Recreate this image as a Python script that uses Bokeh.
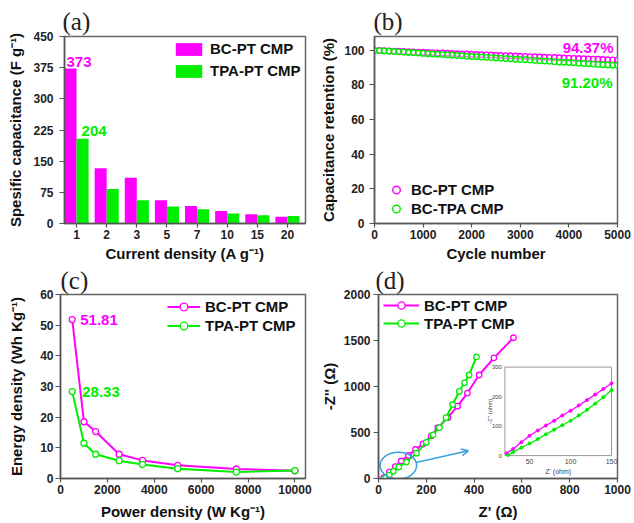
from bokeh.plotting import figure
from bokeh.layouts import column, row
from bokeh.models import (Range1d, FixedTicker, Legend, LegendItem, Arrow, OpenHead,
                          ColumnDataSource)
from bokeh.core.properties import value
from bokeh.embed import file_html
from bokeh.resources import INLINE
import math

MAG = "#ff00ff"
GRN = "#00ee00"
BLUE = "#3aa0e0"
FONT = "Liberation Sans"
SERIF = "Liberation Serif"

# ---------------- (a) specific capacitance ----------------
densities = ["1", "2", "3", "5", "7", "10", "15", "20"]
cap_bc = [373, 133, 110, 56, 42, 30, 22, 16]
cap_tpa = [204, 83, 56, 41, 34, 24, 20, 18]
cap_ticks = [0, 75, 150, 225, 300, 375, 450]

# ---------------- (b) cycling stability ----------------
cycles = list(range(0, 5001, 100))
ret_bc = [100.00, 99.92, 99.80, 99.69, 99.58, 99.45, 99.35, 99.22, 99.11, 99.00,
          98.88, 98.77, 98.66, 98.53, 98.43, 98.31, 98.20, 98.08, 97.97, 97.86,
          97.75, 97.63, 97.52, 97.41, 97.29, 97.18, 97.07, 96.95, 96.84, 96.73,
          96.62, 96.50, 96.39, 96.28, 96.16, 96.05, 95.94, 95.83, 95.71, 95.60,
          95.49, 95.38, 95.27, 95.15, 95.04, 94.93, 94.82, 94.71, 94.60, 94.48, 94.37]
ret_tpa = [100.00, 99.85, 99.67, 99.49, 99.32, 99.14, 98.96, 98.79, 98.61, 98.43,
           98.25, 98.08, 97.90, 97.73, 97.55, 97.37, 97.19, 97.02, 96.84, 96.66,
           96.48, 96.31, 96.13, 95.96, 95.78, 95.60, 95.42, 95.25, 95.07, 94.89,
           94.72, 94.54, 94.36, 94.19, 94.01, 93.83, 93.66, 93.48, 93.30, 93.12,
           92.95, 92.77, 92.60, 92.42, 92.24, 92.07, 91.89, 91.72, 91.55, 91.37, 91.20]

# ---------------- (c) Ragone ----------------
power = [500, 1000, 1500, 2500, 3500, 5000, 7500, 10000]
energy_bc = [51.81, 18.5, 15.3, 7.9, 5.9, 4.3, 3.1, 2.5]
energy_tpa = [28.33, 11.5, 7.9, 5.8, 4.6, 3.2, 2.1, 2.6]

# ---------------- (d) Nyquist ----------------
zre_bc = [22, 45, 70, 95, 125, 155, 186, 221, 248, 290, 331, 372, 421, 483, 565]
zim_bc = [10, 70, 130, 190, 250, 315, 375, 464, 553, 661, 786, 929, 1125, 1311, 1530]
zre_tpa = [30, 45, 62, 85, 117, 159, 200, 228, 255, 283, 310, 338, 360, 379, 410]
zim_tpa = [8, 36, 80, 125, 179, 275, 393, 475, 554, 661, 804, 946, 1040, 1125, 1321]
# inset (zoom of low-frequency region)
in_zre_bc = [22, 30, 40, 50, 60, 70, 80, 90, 100, 110, 120, 130, 140, 150]
in_zim_bc = [8, 22, 45, 67, 85, 102, 118, 136, 152, 170, 188, 207, 226, 245]
in_zre_tpa = [24, 30, 40, 50, 60, 70, 80, 90, 100, 110, 120, 130, 140, 150]
in_zim_tpa = [2, 12, 27, 41, 56, 72, 88, 103, 118, 136, 155, 176, 198, 222]
in_xticks = [50, 100, 150]
in_yticks = [0, 100, 200, 300]


def style(p, label, title_offset, title_standoff, yl_std, yal_std, xal_std):
    p.title.text = label
    p.title.text_font = SERIF
    p.title.text_font_size = "25px"
    p.title.text_font_style = "normal"
    p.title.text_color = "#222222"
    p.title.standoff = title_standoff
    p.title.offset = title_offset
    p.outline_line_color = "#666666"
    p.outline_line_width = 1.5
    p.xgrid.visible = False
    p.ygrid.visible = False
    for ax in p.axis:
        ax.axis_line_color = "#555555"
        ax.axis_line_width = 1.5
        ax.major_tick_line_color = "#555555"
        ax.major_tick_line_width = 1.2
        ax.major_tick_in = 0
        ax.minor_tick_line_color = None
        ax.major_label_text_font = FONT
        ax.major_label_text_font_style = "bold"
        ax.major_label_text_font_size = "12px"
        ax.major_label_text_color = "#222222"
        ax.axis_label_text_font = FONT
        ax.axis_label_text_font_style = "bold"
        ax.axis_label_text_font_size = "15px"
        ax.axis_label_text_color = "#111111"
    p.xaxis.major_tick_out = 4
    p.xaxis.major_label_standoff = 2
    p.xaxis.axis_label_standoff = xal_std
    p.yaxis.major_tick_out = 5
    p.yaxis.major_label_standoff = yl_std
    p.yaxis.axis_label_standoff = yal_std


def legend(p, items, loc, gw, gh, lh, sp):
    lg = Legend(items=items, location=loc, orientation="vertical",
                glyph_width=gw, glyph_height=gh, label_height=lh, spacing=sp,
                label_standoff=5, padding=0, margin=0,
                label_text_font=FONT, label_text_font_style="bold",
                label_text_font_size="15px", label_text_color="#111111",
                background_fill_alpha=0, border_line_color=None)
    p.add_layout(lg, "center")


WL = 317
WR = 316
H1 = 264
H2 = 258

# ---------------- panel (a) ----------------
pos = list(range(1, len(densities) + 1))
src_a = ColumnDataSource(dict(x_bc=[v - 0.2 for v in pos], x_tpa=[v + 0.2 for v in pos],
                              bc=cap_bc, tpa=cap_tpa))
pa = figure(width=WL, height=H1, x_range=Range1d(0.6, 8.6), y_range=Range1d(0, 450),
            output_backend="svg", toolbar_location=None,
            min_border_left=64, min_border_right=12, min_border_top=36, min_border_bottom=41)
r1 = pa.vbar(x="x_bc", top="bc", width=0.4, source=src_a, fill_color=MAG, line_color=None)
r2 = pa.vbar(x="x_tpa", top="tpa", width=0.4, source=src_a, fill_color=GRN, line_color=None)
pa.xaxis.ticker = FixedTicker(ticks=pos)
pa.xaxis.major_label_overrides = {p_: d for p_, d in zip(pos, densities)}
pa.yaxis.ticker = FixedTicker(ticks=cap_ticks)
pa.xaxis.axis_label = "Current density (A g\u207b\u00b9)"
pa.yaxis.axis_label = "Spesific capacitance (F g\u207b\u00b9)"
style(pa, "(a)", -2, 3, 6, 6, 3)
pa.text(x=[0.6], y=[cap_bc[0]], text=[str(cap_bc[0])], text_color=MAG,
        text_font=value(FONT), text_font_style="bold", text_font_size="15px",
        text_baseline="bottom", text_align="left", x_offset=2, y_offset=-1)
pa.text(x=[1.0], y=[cap_tpa[0]], text=[str(cap_tpa[0])], text_color=GRN,
        text_font=value(FONT), text_font_style="bold", text_font_size="15px",
        text_baseline="bottom", text_align="left", x_offset=5, y_offset=-3)
legend(pa, [LegendItem(label="BC-PT CMP", renderers=[r1]),
            LegendItem(label="TPA-PT CMP", renderers=[r2])],
       (108, 144), 33, 16, 16, 5)

# ---------------- panel (b) ----------------
pb = figure(width=WR, height=H1, x_range=Range1d(0, 5000), y_range=Range1d(0, 108),
            output_backend="svg", toolbar_location=None,
            min_border_left=56, min_border_right=16, min_border_top=36, min_border_bottom=41)
rb1 = pb.scatter(cycles, ret_bc, size=5.5, marker="circle", line_color=MAG, line_width=1.4,
                 fill_color="white", fill_alpha=0.4)
rb2 = pb.scatter(cycles, ret_tpa, size=5.5, marker="circle", line_color=GRN, line_width=1.4,
                 fill_color="white", fill_alpha=0.4)
pb.xaxis.ticker = FixedTicker(ticks=[0, 1000, 2000, 3000, 4000, 5000])
pb.yaxis.ticker = FixedTicker(ticks=[0, 20, 40, 60, 80, 100])
pb.xaxis.axis_label = "Cycle number"
pb.yaxis.axis_label = "Capacitance retention (%)"
style(pb, "(b)", -1, 3, 5, 4, 3)
pb.text(x=[cycles[-1]], y=[ret_bc[-1]], text=["%.2f%%" % ret_bc[-1]], text_color=MAG,
        text_font=value(FONT), text_font_style="bold", text_font_size="15px",
        text_baseline="bottom", text_align="right", x_offset=-4, y_offset=-4)
pb.text(x=[cycles[-1]], y=[ret_tpa[-1]], text=["%.2f%%" % ret_tpa[-1]], text_color=GRN,
        text_font=value(FONT), text_font_style="bold", text_font_size="15px",
        text_baseline="top", text_align="right", x_offset=-5, y_offset=8)
legend(pb, [LegendItem(label="BC-PT CMP", renderers=[rb1]),
            LegendItem(label="BC-TPA CMP", renderers=[rb2])],
       (12, 5), 20, 19, 19, 0)

# ---------------- panel (c) ----------------
pc = figure(width=WL, height=H2, x_range=Range1d(0, 10450), y_range=Range1d(0, 60),
            output_backend="svg", toolbar_location=None,
            min_border_left=60, min_border_right=12, min_border_top=29, min_border_bottom=44)
lc1 = pc.line(power, energy_bc, line_color=MAG, line_width=2)
sc1 = pc.scatter(power, energy_bc, size=6, line_color=MAG, line_width=1.3, fill_color="white")
lc2 = pc.line(power, energy_tpa, line_color=GRN, line_width=2)
sc2 = pc.scatter(power, energy_tpa, size=6, line_color=GRN, line_width=1.3, fill_color="white")
pc.xaxis.ticker = FixedTicker(ticks=[0, 2000, 4000, 6000, 8000, 10000])
pc.yaxis.ticker = FixedTicker(ticks=[0, 10, 20, 30, 40, 50, 60])
pc.xaxis.axis_label = "Power density (W Kg\u207b\u00b9)"
pc.yaxis.axis_label = "Energy density (Wh Kg\u207b\u00b9)"
style(pc, "(c)", 0, 1, 2, 12, 6)
pc.text(x=[power[0]], y=[energy_bc[0]], text=["%.2f" % energy_bc[0]], text_color=MAG,
        text_font=value(FONT), text_font_style="bold", text_font_size="15px",
        text_baseline="middle", text_align="left", x_offset=8)
pc.text(x=[power[0]], y=[energy_tpa[0]], text=["%.2f" % energy_tpa[0]], text_color=GRN,
        text_font=value(FONT), text_font_style="bold", text_font_size="15px",
        text_baseline="middle", text_align="left", x_offset=10)
legend(pc, [LegendItem(label="BC-PT CMP", renderers=[lc1, sc1]),
            LegendItem(label="TPA-PT CMP", renderers=[lc2, sc2])],
       (107, 143), 33, 19, 19, 0)

# ---------------- panel (d) ----------------
pd_ = figure(width=WR, height=H2, x_range=Range1d(0, 1000), y_range=Range1d(0, 2000),
             output_backend="svg", toolbar_location=None,
             min_border_left=58, min_border_right=16, min_border_top=29, min_border_bottom=44)
ld1 = pd_.line(zre_bc, zim_bc, line_color=MAG, line_width=2)
sd1 = pd_.scatter(zre_bc, zim_bc, size=5.5, line_color=MAG, line_width=1.3, fill_color="white")
ld2 = pd_.line(zre_tpa, zim_tpa, line_color=GRN, line_width=2)
sd2 = pd_.scatter(zre_tpa, zim_tpa, size=5.5, line_color=GRN, line_width=1.3, fill_color="white")
pd_.xaxis.ticker = FixedTicker(ticks=[0, 200, 400, 600, 800, 1000])
pd_.yaxis.ticker = FixedTicker(ticks=[0, 500, 1000, 1500, 2000])
pd_.xaxis.axis_label = "Z' (\u03a9)"
pd_.yaxis.axis_label = "-Z'' (\u03a9)"
style(pd_, "(d)", -3, 1, 3, 3, 6)
legend(pd_, [LegendItem(label="BC-PT CMP", renderers=[ld1, sd1]),
             LegendItem(label="TPA-PT CMP", renderers=[ld2, sd2])],
       (5, 146), 36, 18, 18, 0)

# highlight ellipse and arrow
pd_.ellipse(x=[83], y=[140], width=[153], height=[290], fill_color=None,
            line_color=BLUE, line_width=1.5)
pd_.add_layout(Arrow(end=OpenHead(size=7, line_color=BLUE, line_width=1.5),
                     x_start=157, y_start=175, x_end=376, y_end=301,
                     line_color=BLUE, line_width=1.5))

# inset
sub = pd_.subplot(x_source=Range1d(20, 150), y_source=Range1d(0, 300),
                  x_target=Range1d(529, 975), y_target=Range1d(249, 1211))
sub.quad(left=[20], right=[150], bottom=[0], top=[300], fill_color="white",
         line_color="#999999", line_width=1)
sub.line(in_zre_bc, in_zim_bc, line_color=MAG, line_width=1.3)
sub.scatter(in_zre_bc, in_zim_bc, size=3, color=MAG)
sub.line(in_zre_tpa, in_zim_tpa, line_color=GRN, line_width=1.3)
sub.scatter(in_zre_tpa, in_zim_tpa, size=3, color=GRN)
sub.text(x=in_xticks, y=[0] * len(in_xticks), text=[str(t) for t in in_xticks],
         text_font=value(FONT), text_font_size="7px", text_color="#444444",
         text_align="center", text_baseline="top", y_offset=3)
sub.text(x=[20] * len(in_yticks), y=in_yticks, text=[str(t) for t in in_yticks],
         text_font=value(FONT), text_font_size="6px", text_color="#444444",
         text_align="right", text_baseline="middle", x_offset=-3)
sub.text(x=[85], y=[0], text=["Z' (ohm)"], text_font=value(FONT), text_font_size="7px",
         text_color="#444444", text_align="center", text_baseline="top", y_offset=12)
sub.text(x=[20], y=[150], text=["-Z'' (ohm)"], text_font=value(FONT), text_font_size="6px",
         text_color="#444444", text_align="center", text_baseline="bottom",
         angle=math.pi / 2, x_offset=-12)

layout = column(row(pa, pb), row(pc, pd_))
open("out.html", "w").write(file_html(layout, INLINE))
